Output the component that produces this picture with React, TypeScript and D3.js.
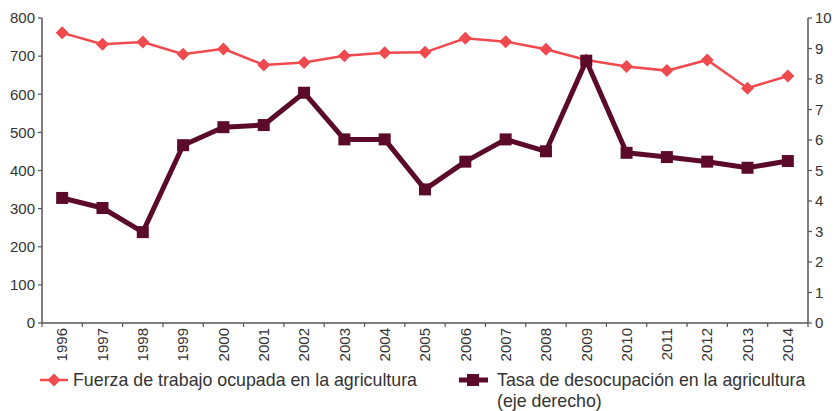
import * as d3 from "d3"

const years = [
  "1996", "1997", "1998", "1999", "2000", "2001", "2002", "2003", "2004", "2005",
  "2006", "2007", "2008", "2009", "2010", "2011", "2012", "2013", "2014",
]
const fuerza = [761, 731, 737, 705, 719, 677, 683, 701, 709, 710, 747, 738, 718, 690, 673, 662, 690, 616, 648]
const tasa = [4.1, 3.77, 2.98, 5.83, 6.42, 6.49, 7.55, 6.02, 6.02, 4.38, 5.29, 6.02, 5.63, 8.6, 5.58, 5.44, 5.29, 5.09, 5.31]
const leftTicks = [0, 100, 200, 300, 400, 500, 600, 700, 800]
const rightTicks = [0, 1, 2, 3, 4, 5, 6, 7, 8, 9, 10]

const RED = "#f04a4e"
const DARK = "#5c0a2a"
const AXIS = "#555"
const TEXT = "#333"
const FONT = "'Liberation Sans', Arial, sans-serif"

const W = 836
const H = 411
const margin = { top: 18, right: 28, bottom: 88, left: 42 }

export default function App() {
  const innerW = W - margin.left - margin.right
  const innerH = H - margin.top - margin.bottom

  const x = d3.scaleBand().domain(years).range([0, innerW])
  const yL = d3.scaleLinear().domain([0, 800]).range([innerH, 0])
  const yR = d3.scaleLinear().domain([0, 10]).range([innerH, 0])
  const cx = (d: string) => (x(d) ?? 0) + x.bandwidth() / 2

  const lineL = d3.line<number>().x((_, i) => cx(years[i])).y((d) => yL(d))
  const lineR = d3.line<number>().x((_, i) => cx(years[i])).y((d) => yR(d))

  const diamond = (px: number, py: number, r: number) =>
    `M${px},${py - r}L${px + r},${py}L${px},${py + r}L${px - r},${py}Z`

  return (
    <svg
      width={W}
      height={H}
      style={{ position: "absolute", left: 0, top: 0, fontFamily: FONT }}
    >
      <g transform={`translate(${margin.left},${margin.top})`}>
        {/* left axis */}
        <line x1={0} x2={0} y1={0} y2={innerH} stroke={AXIS} strokeWidth={1.5} />
        {leftTicks.map((t) => (
          <g key={t} transform={`translate(0,${yL(t)})`}>
            <line x1={-4} x2={0} stroke={AXIS} strokeWidth={1.2} />
            <text x={-7} dy="0.35em" textAnchor="end" fontSize={15} fill={TEXT}>
              {t}
            </text>
          </g>
        ))}
        {/* right axis */}
        <line x1={innerW} x2={innerW} y1={0} y2={innerH} stroke={AXIS} strokeWidth={1.5} />
        {rightTicks.map((t) => (
          <g key={t} transform={`translate(${innerW},${yR(t)})`}>
            <line x1={0} x2={4} stroke={AXIS} strokeWidth={1.2} />
            <text x={7} dy="0.35em" textAnchor="start" fontSize={15} fill={TEXT}>
              {t}
            </text>
          </g>
        ))}
        {/* x axis */}
        <line x1={0} x2={innerW} y1={innerH} y2={innerH} stroke={AXIS} strokeWidth={1.5} />
        {years.map((yr, i) => (
          <line
            key={"t" + yr}
            x1={x.step() * i}
            x2={x.step() * i}
            y1={innerH}
            y2={innerH + 4}
            stroke={AXIS}
            strokeWidth={1.2}
          />
        ))}
        <line x1={innerW} x2={innerW} y1={innerH} y2={innerH + 4} stroke={AXIS} strokeWidth={1.2} />
        {years.map((yr) => (
          <text
            key={yr}
            transform={`translate(${cx(yr)},${innerH + 5}) rotate(-90)`}
            dy="0.35em"
            textAnchor="end"
            fontSize={15}
            fill={TEXT}
          >
            {yr}
          </text>
        ))}

        {/* series */}
        <path d={lineL(fuerza) ?? ""} fill="none" stroke={RED} strokeWidth={2.5} />
        {fuerza.map((v, i) => (
          <path key={"d" + i} d={diamond(cx(years[i]), yL(v), 6.5)} fill={RED} />
        ))}
        <path d={lineR(tasa) ?? ""} fill="none" stroke={DARK} strokeWidth={5} strokeLinejoin="round" />
        {tasa.map((v, i) => (
          <rect key={"s" + i} x={cx(years[i]) - 6} y={yR(v) - 6} width={12} height={12} fill={DARK} />
        ))}
      </g>

      {/* legend */}
      <g transform="translate(0,380)">
        <line x1={40} x2={68} y1={0} y2={0} stroke={RED} strokeWidth={2.5} />
        <path d={diamond(54, 0, 6.5)} fill={RED} />
        <text x={73} dy="0.35em" fontSize={17.8} fill={TEXT}>
          Fuerza de trabajo ocupada en la agricultura
        </text>
        <line x1={459} x2={488} y1={0} y2={0} stroke={DARK} strokeWidth={5} />
        <rect x={467} y={-6} width={12} height={12} fill={DARK} />
        <text x={497} dy="0.35em" fontSize={17.8} fill={TEXT}>
          Tasa de desocupación en la agricultura
        </text>
        <text x={497} y={21} dy="0.35em" fontSize={17.8} fill={TEXT}>
          (eje derecho)
        </text>
      </g>
    </svg>
  )
}
